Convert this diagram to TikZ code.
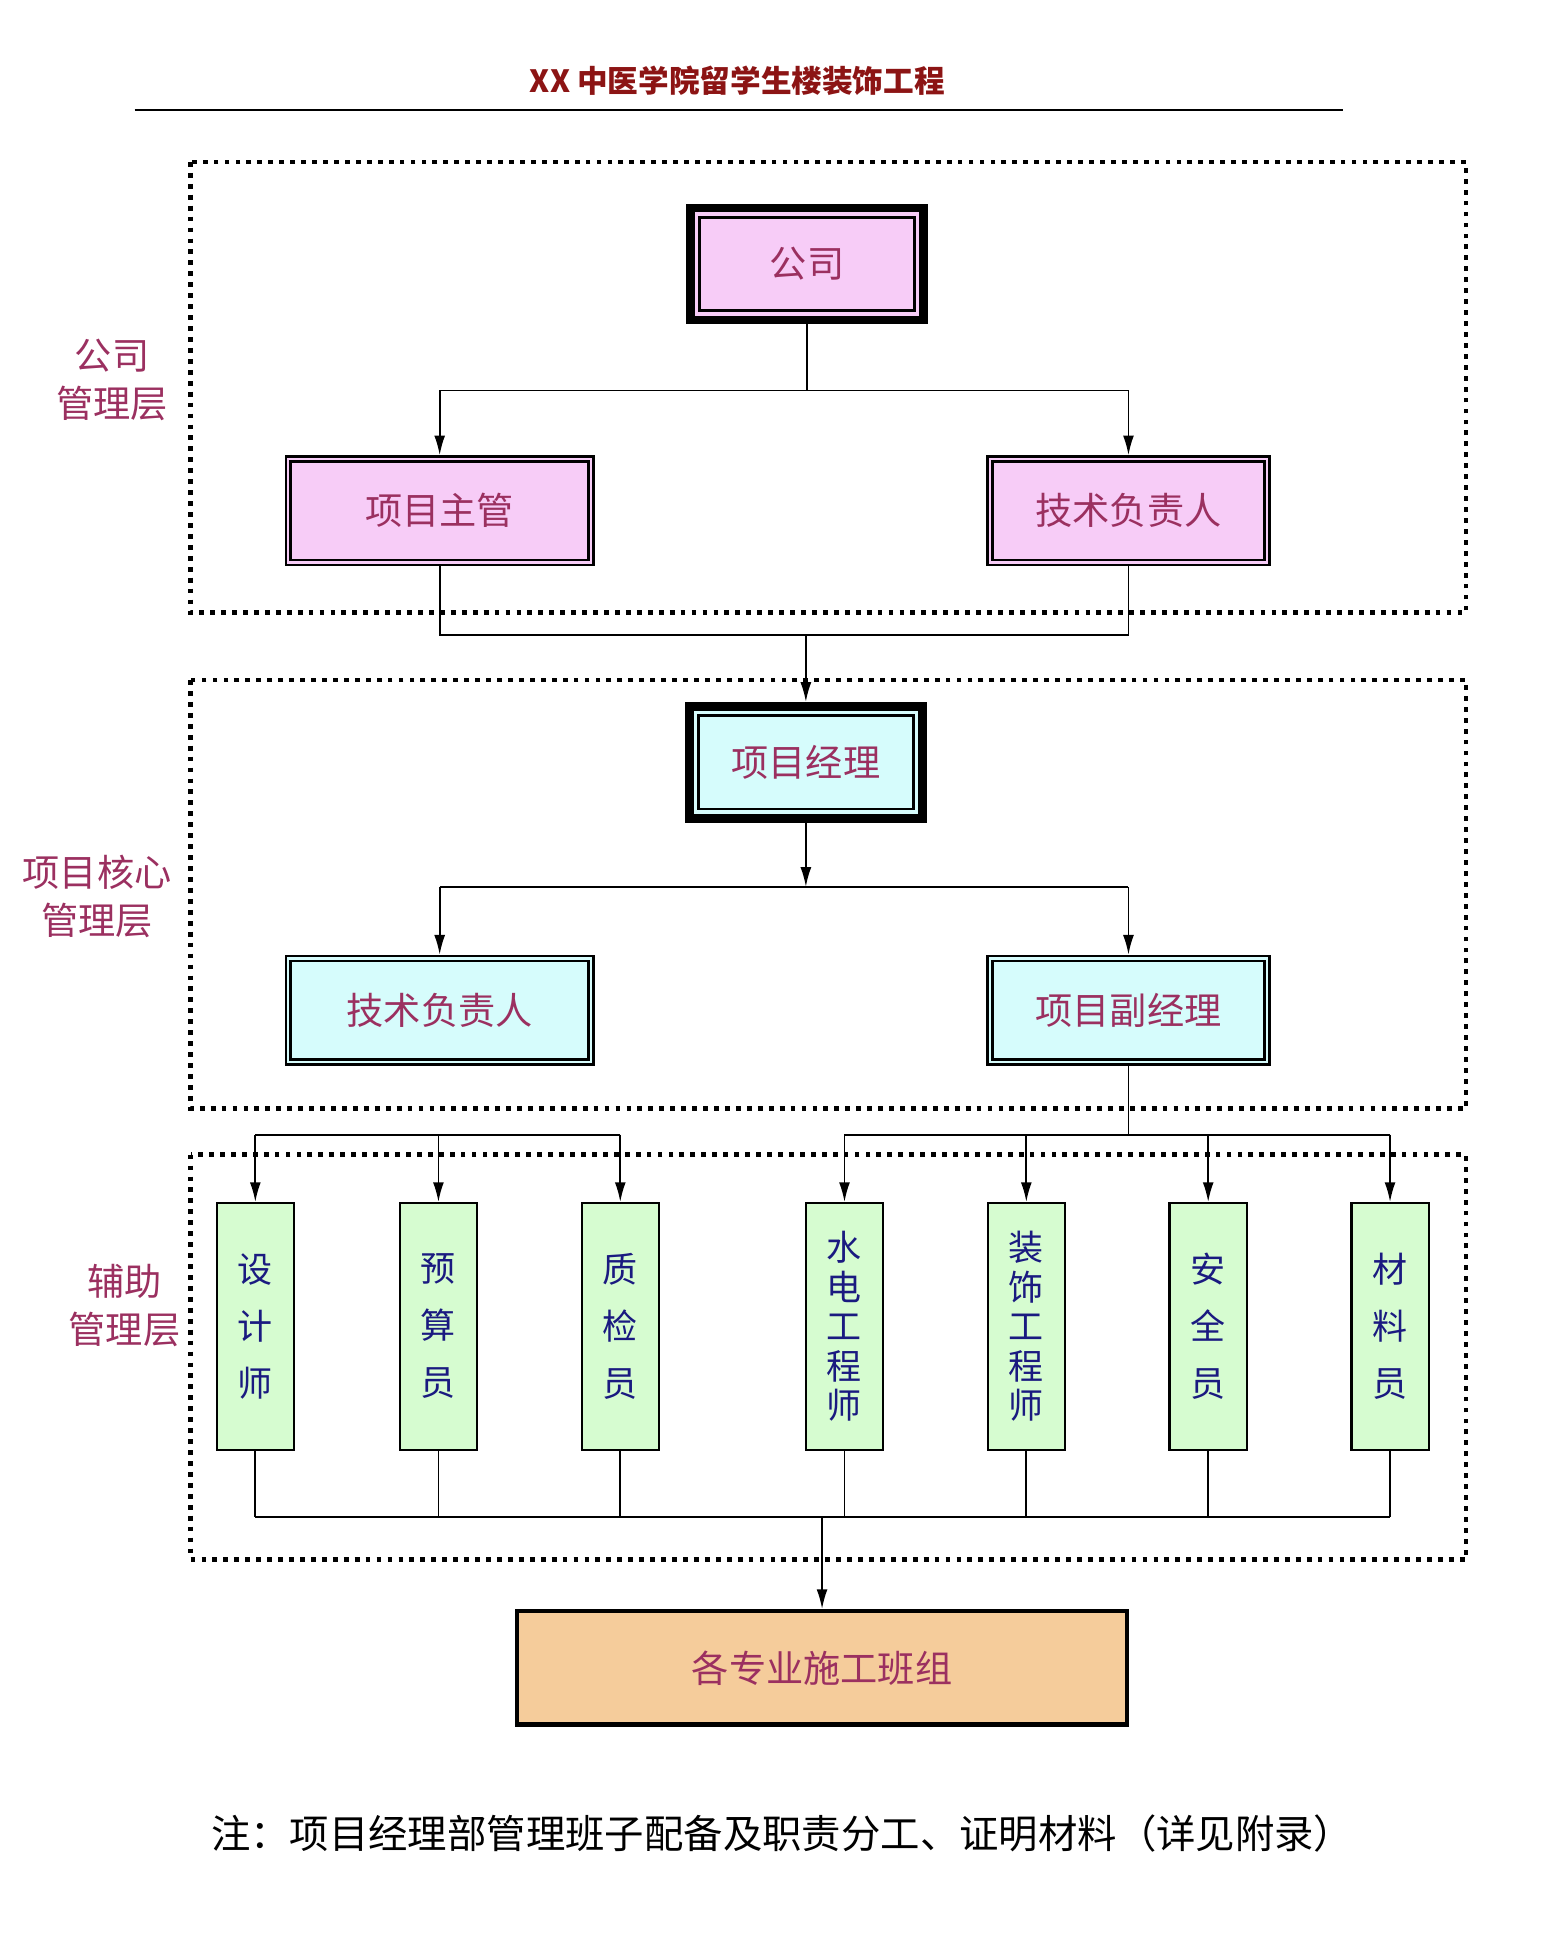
\documentclass[tikz,border=0pt]{standalone}
\usepackage{fontspec}
\setmainfont{Noto Sans CJK SC}
\usetikzlibrary{arrows.meta}
\definecolor{txt}{HTML}{9B3060}
\definecolor{pinkf}{HTML}{F7CCF7}
\definecolor{cyanf}{HTML}{D6FCFC}
\definecolor{greenf}{HTML}{D6FCD0}
\definecolor{orgf}{HTML}{F5CC9B}
\definecolor{blu}{HTML}{1A1A80}
\begin{document}
\begin{tikzpicture}[x=0.02cm,y=-0.02cm,
  lbl/.style={text=txt,font=\fontsize{17}{22}\selectfont,align=center},
  dbl/.style={draw,line width=1.2pt,fill=#1,inner sep=0,text=txt,font=\fontsize{17}{20}\selectfont},
  thk/.style={draw,line width=4pt,fill=#1,inner sep=0,text=txt,font=\fontsize{17}{20}\selectfont},
  inner/.style={line width=1.2pt},
  grn/.style={draw,line width=1pt,fill=greenf,minimum width=1.24cm,minimum height=3.96cm,text=blu,font=\fontsize{16}{20}\selectfont,align=center,anchor=north},
  dot/.style={line width=2.2pt,dash pattern=on 2.2pt off 2.8pt},
  arr/.style={-{Latex[length=9pt,width=5pt]},line width=0.8pt},
  ln/.style={line width=0.8pt}]
\useasboundingbox (0,0) rectangle (1240,1572);
\node[text={rgb,255:red,140;green,20;blue,20},font=\fontsize{14}{16}\bfseries\selectfont] (title) at (592,65) {XX 中医学院留学生楼装饰工程};
\coordinate (tl) at (108,88); \coordinate (tr) at (1078,88);
\draw[line width=1pt] (tl)--(tr);
\draw[dot] (153,130) rectangle (1177,492);
\draw[dot] (153,546) rectangle (1177,890);
\draw[dot] (153,927) rectangle (1177,1252);
\node[lbl] (l1) at (90,305) {公司\\管理层};
\node[lbl] (l2) at (78,720) {项目核心\\管理层};
\node[lbl] (l3) at (100,1048) {辅助\\管理层};
% boxes
\node[thk=pinkf,minimum width=3.75cm,minimum height=1.8cm] (gs) at (648,212) {公司};
\node[dbl=pinkf,minimum width=4.94cm,minimum height=1.74cm] (zg) at (353,410) {项目主管};
\node[dbl=pinkf,minimum width=4.52cm,minimum height=1.74cm] (js) at (906,410) {技术负责人};
\node[thk=cyanf,minimum width=3.75cm,minimum height=1.8cm] (jl) at (647,612) {项目经理};
\node[dbl=cyanf,minimum width=4.94cm,minimum height=1.74cm] (js2) at (353,811) {技术负责人};
\node[dbl=cyanf,minimum width=4.52cm,minimum height=1.74cm] (fj) at (906,811) {项目副经理};
\foreach \b/\d in {gs/11,jl/11,zg/5,js/5,js2/5,fj/5}{
  \draw[inner] ([shift={(\d,\d)}]\b.north west) rectangle ([shift={(-\d,-\d)}]\b.south east);}
\node[draw,line width=2pt,fill=orgf,minimum width=9.8cm,minimum height=1.82cm,text=txt,font=\fontsize{17}{20}\selectfont] (bz) at (660,1339) {各专业施工班组};
\node[grn] (g1) at (205,965) {设\\[6pt]计\\[6pt]师};
\node[grn] (g2) at (352,965) {预\\[6pt]算\\[6pt]员};
\node[grn] (g3) at (498,965) {质\\[6pt]检\\[6pt]员};
\node[grn,font=\fontsize{16}{18}\selectfont] (g4) at (678,965) {水\\电\\工\\程\\师};
\node[grn,font=\fontsize{16}{18}\selectfont] (g5) at (824,965) {装\\饰\\工\\程\\师};
\node[grn] (g6) at (970,965) {安\\[6pt]全\\[6pt]员};
\node[grn] (g7) at (1116,965) {材\\[6pt]料\\[6pt]员};
\node[font=\fontsize{18}{20}\selectfont] (note) at (628,1472) {注：项目经理部管理班子配备及职责分工、证明材料（详见附录）};
% connectors
\draw[ln] (gs.south)--++(0,53) coordinate (c1);
\draw[ln] (zg.north|-c1)--(js.north|-c1);
\draw[arr] (zg.north|-c1)--(zg.north);
\draw[arr] (js.north|-c1)--(js.north);
\coordinate (c2) at (647,510);
\draw[ln] (zg.south)--(zg.south|-c2)--(js.south|-c2)--(js.south);
\draw[arr] (c2)--(jl.north);
\coordinate (c3) at (647,712);
\draw[arr] (jl.south)--(c3);
\draw[ln] (js2.north|-c3)--(fj.north|-c3);
\draw[arr] (js2.north|-c3)--(js2.north);
\draw[arr] (fj.north|-c3)--(fj.north);
\coordinate (c4) at (906,911);
\draw[ln] (fj.south)--(c4);
\draw[ln] (g1.north|-c4)--(g3.north|-c4);
\draw[ln] (g4.north|-c4)--(g7.north|-c4);
\foreach \g in {g1,g2,g3,g4,g5,g6,g7}{\draw[arr] (\g.north|-c4)--(\g.north);}
\coordinate (c5) at (660,1218);
\draw[ln] (g1.south|-c5)--(g7.south|-c5);
\foreach \g in {g1,g2,g3,g4,g5,g6,g7}{\draw[ln] (\g.south)--(\g.south|-c5);}
\draw[arr] (c5)--(bz.north);
\end{tikzpicture}
\end{document}
